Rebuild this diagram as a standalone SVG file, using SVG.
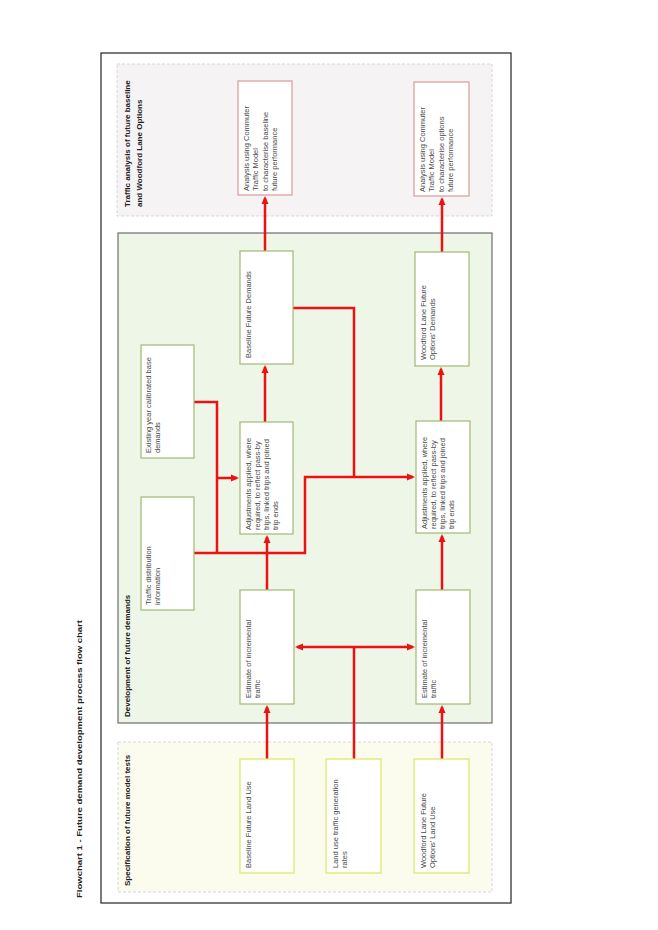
<svg xmlns="http://www.w3.org/2000/svg" width="658" height="930" viewBox="0 0 658 930">
<style>
.t{font-family:"Liberation Sans",Arial,sans-serif;font-size:7.5px;fill:#4a4a4a}
.h{font-family:"Liberation Sans",Arial,sans-serif;font-size:8px;font-weight:bold;fill:#222}
.pk{fill:#fff;stroke:#d9999a;stroke-width:1.2}
.gr{fill:#fff;stroke:#a2b775;stroke-width:1.2}
.yl{fill:#fff;stroke:#dde85a;stroke-width:1.2}
.c{fill:none;stroke:#ee1111;stroke-width:2.5}
.a{marker-end:url(#ar)}
</style>
<defs>
<marker id="ar" markerUnits="userSpaceOnUse" markerWidth="9" markerHeight="8" refX="6" refY="4" orient="auto">
<path d="M0,0.5 L8,4 L0,7.5 z" fill="#ee1111"/>
</marker>
</defs>
<rect width="658" height="930" fill="#fff"/>
<text class="h" font-size="9.5" transform="translate(82,898) rotate(-90)" textLength="278" lengthAdjust="spacingAndGlyphs">Flowchart 1 - Future demand development process flow chart</text>
<rect x="101" y="53" width="410" height="850" fill="none" stroke="#333" stroke-width="1.3"/>

<g id="grp-traffic">
<rect x="117" y="64" width="375" height="152" fill="#f5f3f3" stroke="#cfcfcf" stroke-width="0.8" stroke-dasharray="3,2"/>
<text class="h" transform="translate(130,207) rotate(-90)"><tspan x="0" y="0">Traffic analysis of future baseline</tspan><tspan x="0" y="12">and Woodford Lane Options</tspan></text>
</g>
<g id="grp-dev">
<rect x="118" y="233" width="374" height="490" fill="#eef6e7" stroke="#6e6e6e" stroke-width="1.2"/>
<text class="h" transform="translate(130,717) rotate(-90)">Development of future demands</text>
</g>
<g id="grp-spec">
<rect x="118" y="742" width="374" height="150" fill="#fbfbee" stroke="#cfcfcf" stroke-width="0.8" stroke-dasharray="3,2"/>
<text class="h" transform="translate(130,886) rotate(-90)">Specification of future model tests</text>
</g>

<g id="connectors">
<path class="c a" d="M267,759 V707"/>
<path class="c a" d="M442,759 V707"/>
<path class="c" d="M354,759 V647"/>
<path class="c a" d="M354,647 H297"/>
<path class="c a" d="M354,647 H413"/>
<path class="c a" d="M267,590 V537"/>
<path class="c a" d="M442,590 V536"/>
<path class="c a" d="M265,422 V367"/>
<path class="c a" d="M441,421 V369"/>
<path class="c a" d="M265,251 V198"/>
<path class="c a" d="M442,252 V199"/>
<path class="c a" d="M194,553 H305 V477 H413"/>
<path class="c" d="M194,402 H217 V553"/>
<path class="c a" d="M217,478 H237"/>
<path class="c" d="M293,308 H354 V477"/>
</g>

<g id="n-analysis1">
<rect class="pk" x="238" y="81" width="54" height="114"/>
<text class="t" transform="translate(249,191) rotate(-90)"><tspan x="0" y="0">Analysis using Commuter</tspan><tspan x="0" y="9.3">Traffic Model</tspan><tspan x="0" y="18.6">to characterise baseline</tspan><tspan x="0" y="27.9">future performance</tspan></text>
</g>
<g id="n-analysis2">
<rect class="pk" x="414" y="82" width="55" height="114"/>
<text class="t" transform="translate(425,192) rotate(-90)"><tspan x="0" y="0">Analysis using Commuter</tspan><tspan x="0" y="9.3">Traffic Model</tspan><tspan x="0" y="18.6">to characterise options</tspan><tspan x="0" y="27.9">future performance</tspan></text>
</g>
<g id="n-baseline-demands">
<rect class="gr" x="240" y="251" width="53" height="113"/>
<text class="t" transform="translate(250.5,358) rotate(-90)">Baseline Future Demands</text>
</g>
<g id="n-wl-demands">
<rect class="gr" x="415" y="252" width="54" height="114"/>
<text class="t" transform="translate(425.5,360) rotate(-90)"><tspan x="0" y="0">Woodford Lane Future</tspan><tspan x="0" y="9.3">Options' Demands</tspan></text>
</g>
<g id="n-existing">
<rect class="gr" x="141" y="345" width="53" height="113"/>
<text class="t" transform="translate(150.5,453) rotate(-90)"><tspan x="0" y="0">Existing year calibrated base</tspan><tspan x="0" y="9.8">demands</tspan></text>
</g>
<g id="n-adjust1">
<rect class="gr" x="240" y="422" width="53" height="112"/>
<text class="t" transform="translate(250.5,530) rotate(-90)"><tspan x="0" y="0">Adjustments applied, where</tspan><tspan x="0" y="9.3">required, to reflect pass-by</tspan><tspan x="0" y="18.6">trips, linked trips and joined</tspan><tspan x="0" y="27.9">trip ends</tspan></text>
</g>
<g id="n-adjust2">
<rect class="gr" x="416" y="421" width="54" height="112"/>
<text class="t" transform="translate(426.5,529) rotate(-90)"><tspan x="0" y="0">Adjustments applied, where</tspan><tspan x="0" y="9.3">required, to reflect pass-by</tspan><tspan x="0" y="18.6">trips, linked trips and joined</tspan><tspan x="0" y="27.9">trip ends</tspan></text>
</g>
<g id="n-distribution">
<rect class="gr" x="141" y="497" width="53" height="113"/>
<text class="t" transform="translate(150.5,605) rotate(-90)"><tspan x="0" y="0">Traffic distribution</tspan><tspan x="0" y="9.8">information</tspan></text>
</g>
<g id="n-estimate1">
<rect class="gr" x="240" y="590" width="54" height="114"/>
<text class="t" transform="translate(250.5,698) rotate(-90)"><tspan x="0" y="0">Estimate of incremental</tspan><tspan x="0" y="9.3">traffic</tspan></text>
</g>
<g id="n-estimate2">
<rect class="gr" x="416" y="590" width="54" height="114"/>
<text class="t" transform="translate(426.5,698) rotate(-90)"><tspan x="0" y="0">Estimate of incremental</tspan><tspan x="0" y="9.3">traffic</tspan></text>
</g>
<g id="n-baseline-landuse">
<rect class="yl" x="240" y="759" width="54" height="114"/>
<text class="t" transform="translate(250.5,868) rotate(-90)">Baseline Future Land Use</text>
</g>
<g id="n-rates">
<rect class="yl" x="326" y="759" width="55" height="114"/>
<text class="t" transform="translate(337.5,868) rotate(-90)"><tspan x="0" y="0">Land use traffic generation</tspan><tspan x="0" y="9.3">rates</tspan></text>
</g>
<g id="n-wl-landuse">
<rect class="yl" x="414" y="759" width="55" height="114"/>
<text class="t" transform="translate(425.5,868) rotate(-90)"><tspan x="0" y="0">Woodford Lane Future</tspan><tspan x="0" y="9.3">Options' Land Use</tspan></text>
</g>
</svg>
